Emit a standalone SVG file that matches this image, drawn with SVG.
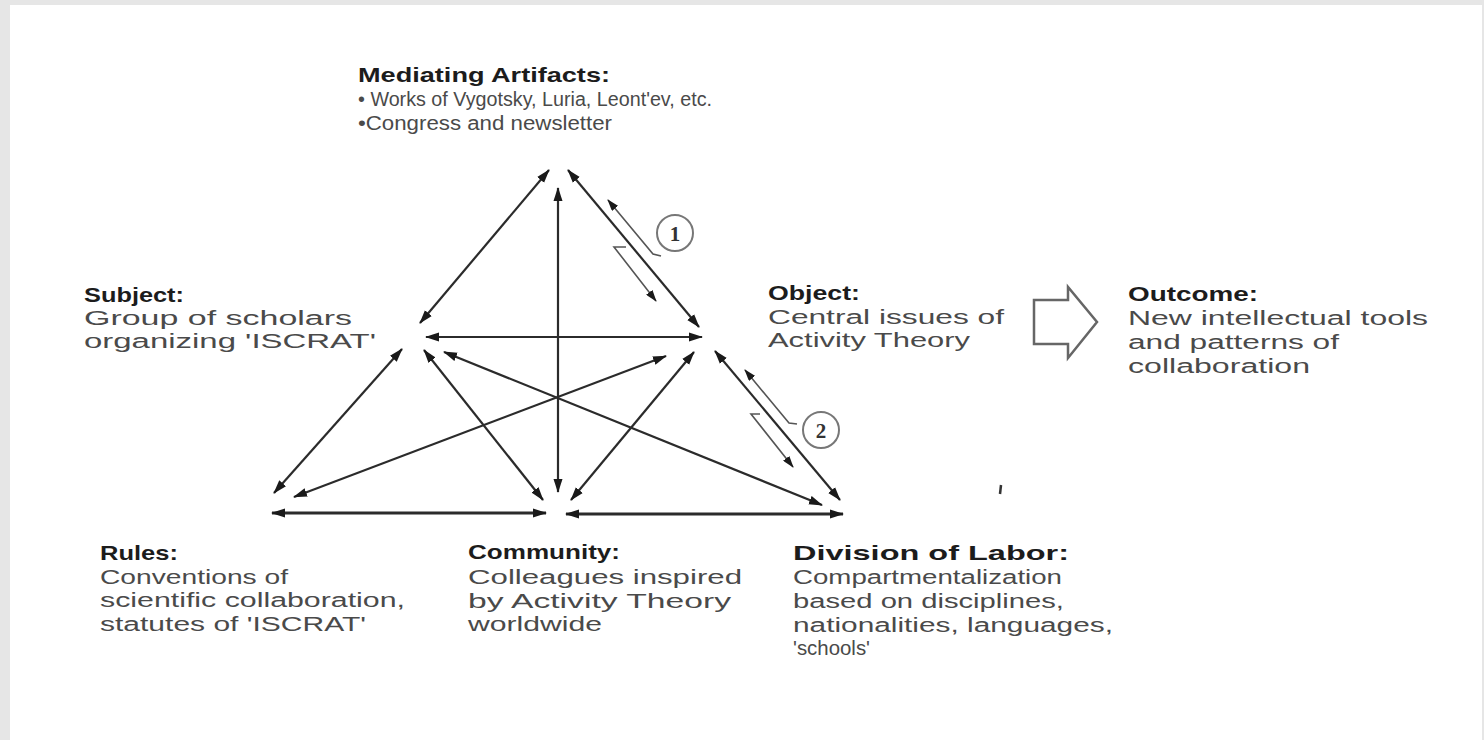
<svg xmlns="http://www.w3.org/2000/svg" width="1484" height="740" viewBox="0 0 1484 740">
<style>
.b{font-family:"Liberation Sans",Arial,sans-serif;font-weight:bold;font-size:21px;fill:#1c1c1c}
.r{font-family:"Liberation Sans",Arial,sans-serif;font-size:20px;fill:#4a4a4a}
.e{stroke:#2b2b2b;stroke-width:2.2;fill:none;marker-start:url(#ah);marker-end:url(#ah)}
.h{stroke-width:3}
.p{stroke:#555;stroke-width:1.6;fill:none;marker-end:url(#sa)}
.c{stroke:#777;stroke-width:2;fill:#fff}
.n{font-family:"Liberation Serif","Times New Roman",serif;font-size:21px;font-weight:bold;fill:#333;text-anchor:middle}
</style>
<defs>
<marker id="ah" viewBox="0 0 14 10" refX="13" refY="5" markerWidth="14" markerHeight="10" markerUnits="userSpaceOnUse" orient="auto-start-reverse"><path d="M0,0.5 L14,5 L0,9.5 z" fill="#1a1a1a"/></marker>
<marker id="sa" viewBox="0 0 12 8" refX="11" refY="4" markerWidth="12" markerHeight="8" markerUnits="userSpaceOnUse" orient="auto"><path d="M0,0 L12,4 L0,8 z" fill="#1a1a1a"/></marker>
</defs>
<rect width="1484" height="740" fill="#e6e6e6"/>
<rect x="10" y="5" width="1472" height="735" fill="#fff"/>

<g id="connectors">
<line class="e" x1="549" y1="170" x2="420" y2="323"/>
<line class="e" x1="402" y1="349" x2="274" y2="493"/>
<line class="e" x1="568" y1="170" x2="699" y2="327"/>
<line class="e" x1="715" y1="351" x2="840" y2="500"/>
<line class="e" x1="558" y1="188" x2="558" y2="492"/>
<line class="e" x1="426" y1="337" x2="702" y2="337"/>
<line class="e" x1="424" y1="350" x2="543" y2="500"/>
<line class="e" x1="694" y1="352" x2="571" y2="500"/>
<line class="e" x1="444" y1="352" x2="822" y2="505"/>
<line class="e" x1="666" y1="356" x2="294" y2="497"/>
<line class="e h" x1="272" y1="513" x2="546" y2="513"/>
<line class="e h" x1="566" y1="514" x2="843" y2="514"/>
<path class="p" d="M661,256 L653,254 L608,200"/>
<path class="p" d="M626,247 L614,247 L656,301"/>
<path class="p" d="M797,424 L789,423 L745,370"/>
<path class="p" d="M760,414 L751,414 L793,467"/>
</g>

<g id="marker-1">
<circle class="c" cx="675" cy="233" r="18"/>
<text class="n" x="675" y="241">1</text>
</g>
<g id="marker-2">
<circle class="c" cx="821" cy="430" r="18"/>
<text class="n" x="821" y="438">2</text>
</g>

<g id="outcome-arrow">
<polygon points="1034,300 1068,300 1068,287 1097,322 1068,358 1068,344 1034,344" fill="#fff" stroke="#666" stroke-width="2.5" stroke-linejoin="miter"/>
</g>

<path d="M1001,485 L1000,494" stroke="#333" stroke-width="2.5"/>

<g id="mediating-artifacts">
<text class="b" x="358" y="82" textLength="252" lengthAdjust="spacingAndGlyphs">Mediating Artifacts:</text>
<text class="r" x="358" y="106" textLength="354" lengthAdjust="spacingAndGlyphs">• Works of Vygotsky, Luria, Leont'ev, etc.</text>
<text class="r" x="358" y="130" textLength="254" lengthAdjust="spacingAndGlyphs">•Congress and newsletter</text>
</g>

<g id="subject">
<text class="b" x="84" y="302" textLength="100" lengthAdjust="spacingAndGlyphs">Subject:</text>
<text class="r" x="84" y="325" textLength="268" lengthAdjust="spacingAndGlyphs">Group of scholars</text>
<text class="r" x="84" y="348" textLength="292" lengthAdjust="spacingAndGlyphs">organizing 'ISCRAT'</text>
</g>

<g id="object">
<text class="b" x="768" y="300" textLength="92" lengthAdjust="spacingAndGlyphs">Object:</text>
<text class="r" x="768" y="324" textLength="236" lengthAdjust="spacingAndGlyphs">Central issues of</text>
<text class="r" x="768" y="347" textLength="202" lengthAdjust="spacingAndGlyphs">Activity Theory</text>
</g>

<g id="outcome">
<text class="b" x="1128" y="301" textLength="130" lengthAdjust="spacingAndGlyphs">Outcome:</text>
<text class="r" x="1128" y="325" textLength="300" lengthAdjust="spacingAndGlyphs">New intellectual tools</text>
<text class="r" x="1128" y="349" textLength="211" lengthAdjust="spacingAndGlyphs">and patterns of</text>
<text class="r" x="1128" y="373" textLength="182" lengthAdjust="spacingAndGlyphs">collaboration</text>
</g>

<g id="rules">
<text class="b" x="100" y="560" textLength="78" lengthAdjust="spacingAndGlyphs">Rules:</text>
<text class="r" x="100" y="584" textLength="188" lengthAdjust="spacingAndGlyphs">Conventions of</text>
<text class="r" x="100" y="607" textLength="305" lengthAdjust="spacingAndGlyphs">scientific collaboration,</text>
<text class="r" x="100" y="631" textLength="266" lengthAdjust="spacingAndGlyphs">statutes of 'ISCRAT'</text>
</g>

<g id="community">
<text class="b" x="468" y="559" textLength="152" lengthAdjust="spacingAndGlyphs">Community:</text>
<text class="r" x="468" y="584" textLength="274" lengthAdjust="spacingAndGlyphs">Colleagues inspired</text>
<text class="r" x="468" y="608" textLength="263" lengthAdjust="spacingAndGlyphs">by Activity Theory</text>
<text class="r" x="468" y="631" textLength="134" lengthAdjust="spacingAndGlyphs">worldwide</text>
</g>

<g id="division-of-labor">
<text class="b" x="793" y="560" textLength="276" lengthAdjust="spacingAndGlyphs">Division of Labor:</text>
<text class="r" x="793" y="584" textLength="269" lengthAdjust="spacingAndGlyphs">Compartmentalization</text>
<text class="r" x="793" y="608" textLength="271" lengthAdjust="spacingAndGlyphs">based on disciplines,</text>
<text class="r" x="793" y="632" textLength="320" lengthAdjust="spacingAndGlyphs">nationalities, languages,</text>
<text class="r" x="793" y="655" textLength="77" lengthAdjust="spacingAndGlyphs">'schools'</text>
</g>
</svg>
